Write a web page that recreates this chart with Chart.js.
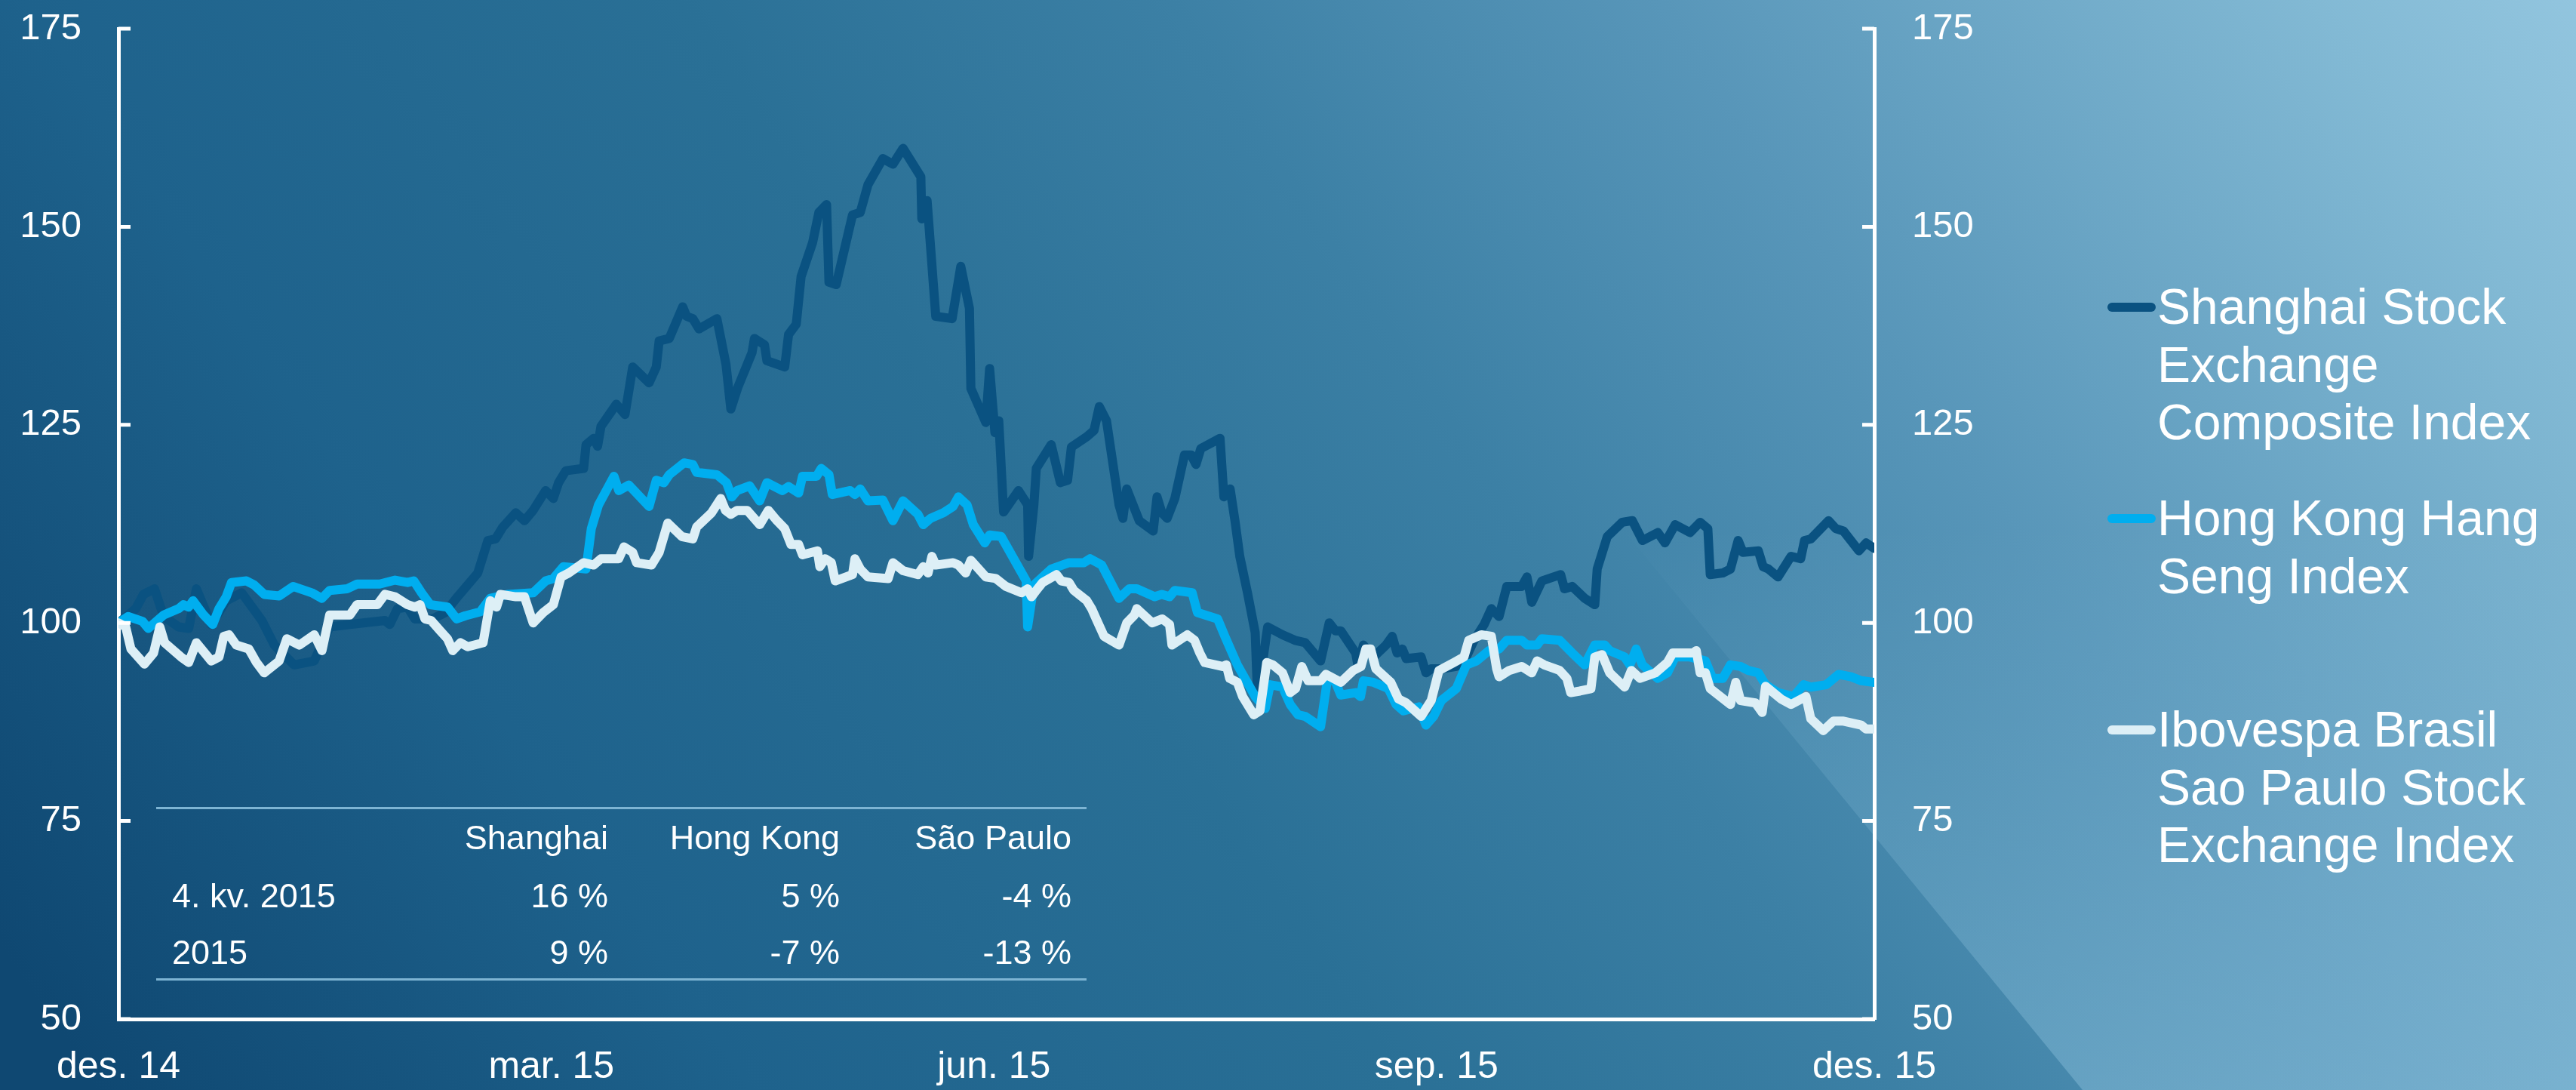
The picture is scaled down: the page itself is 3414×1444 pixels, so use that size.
<!DOCTYPE html>
<html>
<head>
<meta charset="utf-8">
<script src="https://cdn.jsdelivr.net/npm/chart.js@4.4.1/dist/chart.umd.min.js"></script>
<style>
    html, body { margin: 0; padding: 0; background: #1b5a86; }
    #wrap { position: relative; width: 3414px; height: 1444px; overflow: hidden; font-family: 'Liberation Sans', Arial, sans-serif; color: #fff; }
    #box { position: absolute; left: 0; top: 0; width: 3414px; height: 1444px; }
    .cell { position: absolute; font-size: 45px; line-height: 45px; white-space: nowrap; }
    .num { width: 300px; text-align: right; }
    .rule { position: absolute; left: 207px; width: 1233px; height: 3px; background: #7db4d3; }
    #legend { position: absolute; left: 2793px; top: 368px; }
    .item { position: relative; height: 280px; }
    .mark { position: absolute; left: 0; top: 33px; width: 64px; height: 12px; border-radius: 6px; }
    .name { position: absolute; left: 66px; top: 0; font-size: 66px; line-height: 76.5px; white-space: nowrap; }
</style>
</head>
<body>
<div id="wrap">
    <div id="box"><canvas id="indexChart"></canvas></div>
    <div id="table"></div>
    <div id="legend"></div>
</div>
<script>
// x values are days since 1 Dec 2014, y values are the index (start = 100)
const shanghaiDays = [0, 3.6, 5.2, 7.5, 9.4, 12.5, 14.6, 16.2, 19.3, 22.4, 25.6, 29.8, 32.4, 36.5, 40.7, 43.9, 48.1, 55.4, 56.4, 58.0, 60.1,
    61.6, 65.3, 67.9, 70.5, 74.7, 76.8, 78.4, 79.9, 82.6, 84.4, 86.2, 88.8, 90.4, 91.5, 93.0, 96.7, 97.2, 98.8, 99.6, 100.3, 103.5, 105.3, 106.9, 110.3, 111.8, 112.4, 114.5, 117.3, 118.1, 119.4, 120.7,
    124.4, 126.3, 127.3, 128.8, 131.7, 132.2, 134.3, 134.8, 138.5, 139.3, 140.9, 141.9, 144.3, 145.6, 147.2, 147.7, 149.2, 152.6, 154.2, 155.8, 158.9, 161.0, 163.1, 166.8, 167.0, 168.1, 169.9, 173.3, 175.1, 176.9, 177.2, 180.3, 181.1, 182.2,
    183.0, 184.0, 187.1, 189.0, 189.2, 190.3, 190.8, 193.9, 195.8, 197.3, 198.1, 201.3, 202.8, 203.9, 205.4, 208.0, 208.8, 209.6, 210.9, 212.2, 215.1, 215.9, 216.9, 218.0, 219.6, 221.6, 223.0, 224.0, 225.0, 229.0, 229.8, 231.1, 232.1, 233.1, 234.7, 236.3, 236.8, 238.9, 242.0,
    244.6, 246.7, 249.9, 251.7, 253.0, 254.1, 257.2, 257.7, 258.8, 260.9, 263.5, 264.8, 265.8, 266.9, 267.7, 270.8, 271.8, 272.9, 275.0, 278.1, 280.2, 281.8, 283.9, 285.4, 287.0, 288.6, 291.7, 292.8, 293.8, 295.9, 299.8, 300.6, 302.2, 304.8,
    306.9, 307.4, 309.5, 312.6, 314.7, 316.8, 320.0, 321.5, 323.6, 326.7, 328.8, 330.4, 330.9, 333.5, 335.1, 336.7, 337.7, 340.9, 341.9, 343.0, 345.0, 347.7, 349.7, 350.5, 351.8, 355.5, 357.0, 358.6, 361.8, 363.3, 365];
const shanghai = [100, 101.8, 103.6, 104.3, 100.8, 99.5, 99.3, 104.3, 99.8, 102.8, 103.8, 100.3, 97.2, 94.7, 95.2, 99.5, 99.8, 100.3, 99.8, 101.8, 102.0,
    100.5, 100.5, 101.3, 103.3, 106.3, 110.4, 110.6, 112.1, 113.9, 112.9, 114.2, 116.7, 115.7, 117.7, 119.2, 119.5, 122.5, 123.3, 122.3, 124.8, 127.6, 126.3, 132.3, 130.3, 132.3, 135.6, 135.9, 139.9, 138.7, 138.4, 137.1,
    138.4, 132.6, 127.0, 129.8, 134.1, 135.9, 135.1, 133.1, 132.3, 136.4, 137.7, 143.7, 148.0, 151.8, 152.8, 143.0, 142.7, 151.5, 151.8, 155.3, 158.6, 157.9, 159.9, 156.3, 151.0, 153.3, 138.7, 138.4, 145.0, 139.7, 129.6, 125.3, 132.1, 124.0,
    125.5, 114.0, 116.7, 114.9, 108.4, 114.9, 119.5, 122.5, 117.7, 118.0, 122.2, 123.5, 124.3, 127.3, 125.5, 114.9, 113.2, 116.9, 114.9, 112.9, 111.6, 115.9, 113.9, 113.2, 115.7, 121.2, 121.2, 120.0, 122.0, 123.3, 115.9, 116.9, 112.9, 108.4, 103.8, 98.8, 90.7, 99.5, 98.5,
    97.8, 97.5, 95.2, 100.0, 99.0, 99.0, 96.2, 94.5, 97.2, 95.7, 97.2, 98.3, 96.2, 96.7, 95.5, 95.7, 93.7, 94.2, 94.2, 94.5, 95.7, 97.8, 99.8, 101.8, 100.8, 104.6, 104.6, 105.8, 102.6, 105.3, 106.1, 104.3, 104.6, 103.1,
    102.3, 106.8, 110.9, 112.7, 112.9, 110.4, 111.4, 110.1, 112.4, 111.4, 112.7, 111.9, 106.1, 106.3, 106.8, 110.4, 108.9, 109.1, 107.1, 106.8, 105.8, 108.4, 108.1, 110.4, 110.6, 112.9, 111.9, 111.6, 109.1, 110.1, 109.4];

const hongKongDays = [0, 2.0, 5.0, 6.2, 9.4, 12.5, 13.5, 14.6, 15.5, 17.7, 19.6, 20.9, 22.4, 23.5, 26.6, 28.2, 30.3, 33.4, 36.3, 40.2, 42.3, 43.9, 47.5, 49.6, 54.3, 57.5, 60.1,
    61.4, 63.0, 64.8, 68.4, 70.3, 72.1, 75.2, 77.3, 81.0, 86.2, 88.8, 90.4, 92.5, 97.2, 98.3, 99.8, 103.0, 104.0, 106.1, 110.3, 111.8, 113.4, 114.5, 117.6, 119.4, 120.2,
    124.4, 126.4, 127.5, 128.6, 131.2, 133.3, 134.8, 138.0, 139.3, 141.4, 142.2, 145.1, 146.1, 147.7, 148.4, 152.1, 153.1, 154.2, 155.8, 158.9, 161.0, 163.1, 166.2, 167.3, 168.8, 171.5, 173.5, 174.6, 176.4, 177.7, 180.1, 181.1,
    183.5, 188.7, 189.0, 190.3, 193.9, 197.6, 200.7, 202.0, 204.4, 208.0, 210.1, 211.7, 215.4, 216.9, 218.5, 219.6, 223.2, 224.3, 228.5, 230.0, 232.6, 236.3, 238.4, 239.4, 242.0, 243.6,
    245.2, 246.7, 249.9, 251.4, 253.0, 254.1, 257.2, 258.2, 258.8, 260.9, 264.0, 265.6, 267.1, 270.3, 271.8, 273.4, 275.0, 278.1, 280.2, 282.3, 284.9, 287.0, 288.6, 291.7, 292.8, 294.9, 295.9, 299.6, 302.2, 304.8,
    306.9, 309.0, 310.0, 313.1, 314.2, 315.5, 316.8, 320.0, 322.0, 323.6, 326.7, 329.9, 331.4, 333.5, 335.1, 337.2, 338.8, 340.9, 342.4, 345.0, 348.2, 350.3, 351.8, 355.0, 357.6, 360.2, 362.3, 365];
const hongKong = [100, 100.8, 100.2, 99.3, 101.0, 101.8, 102.3, 102.0, 102.8, 101.0, 99.8, 101.8, 103.3, 105.1, 105.3, 104.8, 103.6, 103.4, 104.6, 103.8, 103.1, 104.1, 104.3, 104.9, 104.9, 105.4, 105.1,
    105.3, 103.8, 102.3, 102.0, 100.5, 100.9, 101.4, 103.1, 103.6, 103.8, 105.3, 105.6, 107.1, 106.8, 111.9, 114.9, 118.5, 116.7, 117.4, 114.7, 118.0, 117.7, 118.7, 120.2, 120.0, 119.0,
    118.7, 117.7, 115.9, 116.7, 117.3, 115.4, 117.7, 116.7, 117.2, 116.4, 118.5, 118.5, 119.5, 118.7, 116.2, 116.7, 116.2, 116.9, 115.4, 115.5, 112.9, 115.4, 113.7, 112.4, 113.2, 113.9, 114.7, 115.9, 114.9, 112.4, 110.1, 111.1,
    110.9, 105.3, 99.5, 104.8, 106.8, 107.6, 107.6, 108.1, 107.3, 103.1, 104.3, 104.3, 103.3, 103.6, 103.3, 104.1, 103.8, 101.3, 100.5, 98.3, 94.7, 90.7, 89.2, 92.2, 91.9, 89.7,
    88.4, 88.2, 86.9, 93.2, 92.5, 90.9, 91.2, 90.7, 92.7, 92.5, 91.7, 89.7, 88.9, 89.4, 87.1, 88.2, 90.2, 91.7, 94.7, 95.2, 96.5, 96.7, 97.8, 97.8, 97.2, 97.2, 98.0, 97.8, 96.2, 94.7,
    97.2, 97.2, 96.5, 95.7, 94.7, 96.7, 94.7, 93.0, 93.7, 95.7, 95.7, 95.2, 93.0, 93.0, 94.7, 94.5, 94.0, 93.7, 92.2, 91.2, 90.7, 92.2, 91.9, 92.2, 93.5, 93.2, 92.7, 92.5];

const saoPauloDays = [0, 1.5, 2.6, 5.4, 7.3, 8.6, 9.6, 13.0, 14.6, 16.2, 19.3, 20.9, 21.9, 23.0, 24.5, 27.1, 28.7, 30.3, 33.4, 35.0, 37.6, 40.7, 42.3, 43.9, 48.1, 49.6, 53.8, 55.4, 57.5, 60.1,
    61.6, 62.7, 63.7, 65.0, 66.9, 68.4, 69.5, 71.1, 72.6, 75.8, 77.3, 78.6, 79.4, 82.6, 84.4, 86.2, 88.3, 90.4, 92.0, 93.6, 96.7, 98.8, 100.3, 104.0, 105.1, 106.9, 107.7, 110.8, 112.4, 114.2, 117.1, 119.4, 120.2,
    123.3, 125.2, 126.2, 127.3, 128.6, 130.7, 133.3, 135.1, 136.9, 138.5, 139.8, 141.4, 142.2, 145.3, 145.8, 146.9, 148.2, 149.0, 152.6, 153.1, 154.2, 155.8, 160.0, 161.0, 163.1, 166.2, 167.3, 168.3, 169.1, 169.9, 173.5, 174.6, 176.1, 177.2, 180.3, 182.4,
    184.5, 187.7, 189.0, 189.8, 190.8, 192.1, 195.0, 196.0, 197.6, 198.6, 201.3, 202.3, 203.4, 204.9, 208.0, 209.6, 211.2, 211.7, 214.9, 217.0, 218.5, 219.0, 222.2, 223.7, 224.8, 225.8, 229.5, 230.3, 231.0, 232.6, 233.7, 236.0, 237.3, 238.7, 240.0, 242.0, 243.6,
    244.7, 246.0, 247.3, 249.9, 251.0, 254.1, 256.7, 258.3, 259.3, 260.3, 261.4, 264.5, 266.1, 267.7, 270.8, 272.9, 274.5, 277.6, 279.7, 280.7, 283.3, 285.4, 286.5, 287.0, 289.1, 291.7, 293.8, 294.9, 296.4, 299.6, 301.1, 301.9, 303.8,
    306.1, 306.9, 308.4, 310.0, 313.1, 314.5, 316.3, 319.5, 322.0, 323.1, 327.3, 328.0, 328.8, 329.9, 330.9, 335.1, 336.2, 337.2, 340.3, 341.7, 342.4, 345.6, 347.7, 350.8, 351.8, 354.4, 356.5, 358.6, 362.3, 363.3, 365];
const saoPaulo = [100, 99.5, 96.7, 94.8, 96.2, 99.5, 97.5, 95.7, 95.0, 97.5, 95.2, 95.7, 98.3, 98.5, 97.2, 96.7, 95.0, 93.7, 95.2, 98.0, 97.2, 98.5, 96.5, 101.0, 101.0, 102.3, 102.3, 103.6, 103.3, 102.3,
    102.0, 102.3, 100.5, 100.3, 99.0, 98.0, 96.5, 97.5, 97.0, 97.5, 102.8, 102.0, 103.6, 103.3, 103.3, 100.0, 101.3, 102.3, 105.8, 106.3, 107.6, 107.3, 108.1, 108.1, 109.6, 108.9, 107.6, 107.3, 108.9, 112.6, 110.9, 110.6, 112.1,
    113.9, 115.7, 114.2, 113.7, 114.2, 114.2, 112.4, 114.2, 112.9, 111.9, 109.9, 109.9, 108.6, 109.1, 107.1, 108.1, 107.6, 105.3, 106.1, 108.1, 106.8, 105.8, 105.6, 107.6, 106.6, 106.1, 107.1, 106.3, 108.4, 107.3, 107.6, 107.3, 106.3, 107.9, 105.8, 105.6,
    104.6, 103.8, 104.3, 103.3, 104.1, 105.1, 106.1, 105.3, 105.1, 104.1, 102.8, 101.8, 100.3, 98.3, 97.2, 100.0, 101.0, 101.8, 100.0, 100.5, 99.8, 97.2, 98.5, 97.8, 96.2, 95.0, 94.5, 94.7, 93.0, 92.5, 90.7, 88.4, 88.9, 95.0, 94.7, 93.7, 91.2,
    91.7, 94.5, 92.7, 92.7, 93.5, 92.5, 94.0, 94.5, 96.7, 96.7, 94.2, 92.5, 90.4, 89.9, 88.2, 90.2, 94.0, 95.0, 95.7, 97.8, 98.5, 98.3, 94.2, 93.2, 94.0, 94.5, 93.7, 95.2, 94.7, 94.0, 93.0, 91.2, 91.4,
    91.7, 95.7, 96.0, 93.7, 91.9, 94.0, 93.0, 93.7, 95.0, 96.2, 96.2, 96.5, 93.7, 93.7, 91.7, 89.7, 92.5, 90.2, 89.9, 88.7, 92.0, 90.4, 89.7, 90.7, 87.9, 86.4, 87.6, 87.6, 87.1, 86.6, 86.6];

const tickDays = [0, 90, 182, 274, 365];
const tickLabels = ['des. 14', 'mar. 15', 'jun. 15', 'sep. 15', 'des. 15'];

const seriesNames = [
    ['Shanghai Stock', 'Exchange', 'Composite Index'],
    ['Hong Kong Hang', 'Seng Index'],
    ['Ibovespa Brasil', 'Sao Paulo Stock', 'Exchange Index']
];
const seriesColors = ['#0a5281', '#00aeef', '#ddeff6'];

const tableHead = ['Shanghai', 'Hong Kong', 'São Paulo'];
const tableRows = [
    ['4. kv. 2015', '16 %', '5 %', '-4 %'],
    ['2015', '9 %', '-7 %', '-13 %']
];

const font = "'Liberation Sans', Arial, sans-serif";
const seriesDays = [shanghaiDays, hongKongDays, saoPauloDays];
const seriesValues = [shanghai, hongKong, saoPaulo];

// background: blue gradient plus the lighter wedge at the lower right
const backdrop = {
    id: 'backdrop',
    beforeDraw(chart) {
        const { ctx, width, height } = chart;
        ctx.save();
        const g = ctx.createLinearGradient(300, 1700, 3300, -300);
        g.addColorStop(0, '#0f4872');
        g.addColorStop(0.2, '#1e628c');
        g.addColorStop(0.4, '#2a7096');
        g.addColorStop(0.55, '#3c80a5');
        g.addColorStop(0.7, '#5896b9');
        g.addColorStop(0.9, '#82b9d4');
        g.addColorStop(1, '#96c8e1');
        ctx.fillStyle = g;
        ctx.fillRect(0, 0, width, height);

        const w = ctx.createLinearGradient(0, 700, 0, height);
        w.addColorStop(0, 'rgba(160,210,235,0)');
        w.addColorStop(1, 'rgba(160,210,235,0.35)');
        ctx.fillStyle = w;
        ctx.beginPath();
        ctx.moveTo(2150, 700);
        ctx.lineTo(2760, height);
        ctx.lineTo(width, height);
        ctx.lineTo(width, 700);
        ctx.closePath();
        ctx.fill();
        ctx.restore();
    }
};

// tick marks point into the plot on both value axes
const innerTicks = {
    id: 'innerTicks',
    afterDraw(chart) {
        const { ctx, chartArea, scales } = chart;
        ctx.save();
        ctx.strokeStyle = '#ffffff';
        ctx.lineWidth = 5;
        scales.y.ticks.forEach(t => {
            const py = scales.y.getPixelForValue(t.value);
            ctx.beginPath();
            ctx.moveTo(chartArea.left, py);
            ctx.lineTo(chartArea.left + 16, py);
            ctx.moveTo(chartArea.right, py);
            ctx.lineTo(chartArea.right - 16, py);
            ctx.stroke();
        });
        ctx.restore();
    }
};

// the label gap is made with an invisible tick so it does not add top padding
const hiddenTickGrid = gap => ({
    drawOnChartArea: false,
    drawTicks: true,
    tickLength: gap,
    tickColor: 'rgba(0,0,0,0)'
});

const ctx = document.getElementById('indexChart').getContext('2d');
new Chart(ctx, {
    type: 'line',
    data: {
        datasets: seriesValues.map((vals, i) => ({
            label: seriesNames[i].join(' '),
            data: seriesDays[i].map((d, k) => ({ x: d, y: vals[k] })),
            borderColor: seriesColors[i],
            backgroundColor: seriesColors[i],
            borderWidth: 12,
            borderJoinStyle: 'round',
            borderCapStyle: 'round',
            pointRadius: 0,
            tension: 0,
            fill: false,
            order: 3 - i
        }))
    },
    options: {
        responsive: true,
        maintainAspectRatio: false,
        animation: false,
        events: [],
        layout: {
            padding: { left: 0, right: 730, top: 38, bottom: 0 }
        },
        plugins: {
            legend: { display: false },
            tooltip: { enabled: false }
        },
        scales: {
            x: {
                type: 'linear',
                min: 0,
                max: 365,
                afterBuildTicks: scale => {
                    scale.ticks = tickDays.map(v => ({ value: v }));
                },
                afterFit: scale => { scale.height = 94; },
                ticks: {
                    autoSkip: false,
                    maxRotation: 0,
                    padding: 0,
                    color: '#ffffff',
                    font: { family: font, size: 50 },
                    callback: (value, index) => tickLabels[index]
                },
                grid: hiddenTickGrid(34),
                border: { display: true, color: '#ffffff', width: 5 }
            },
            y: {
                position: 'left',
                min: 50,
                max: 175,
                afterFit: scale => { scale.width = 157; },
                ticks: {
                    stepSize: 25,
                    padding: 0,
                    color: '#ffffff',
                    font: { family: font, size: 49 }
                },
                grid: hiddenTickGrid(49),
                border: { display: true, color: '#ffffff', width: 5 }
            },
            y2: {
                position: 'right',
                min: 50,
                max: 175,
                afterFit: scale => { scale.width = 200; },
                ticks: {
                    stepSize: 25,
                    padding: 0,
                    color: '#ffffff',
                    font: { family: font, size: 49 }
                },
                grid: hiddenTickGrid(50),
                border: { display: true, color: '#ffffff', width: 5 }
            }
        }
    },
    plugins: [backdrop, innerTicks]
});

// table of returns
const table = document.getElementById('table');
const colRight = [806, 1113, 1420];
const rowTop = [1087, 1164, 1239];
function addCell(text, left, top, right) {
    const el = document.createElement('div');
    el.className = right ? 'cell num' : 'cell';
    el.textContent = text;
    el.style.left = (right ? left - 300 : left) + 'px';
    el.style.top = top + 'px';
    table.appendChild(el);
}
[1069, 1296].forEach(t => {
    const r = document.createElement('div');
    r.className = 'rule';
    r.style.top = t + 'px';
    table.appendChild(r);
});
tableHead.forEach((h, c) => addCell(h, colRight[c], rowTop[0], true));
tableRows.forEach((row, r) => {
    addCell(row[0], 228, rowTop[r + 1], false);
    row.slice(1).forEach((v, c) => addCell(v, colRight[c], rowTop[r + 1], true));
});

// legend
const legend = document.getElementById('legend');
seriesNames.forEach((lines, i) => {
    const item = document.createElement('div');
    item.className = 'item';
    const mark = document.createElement('div');
    mark.className = 'mark';
    mark.style.background = seriesColors[i];
    const name = document.createElement('div');
    name.className = 'name';
    lines.forEach((ln, k) => {
        if (k) name.appendChild(document.createElement('br'));
        name.appendChild(document.createTextNode(ln));
    });
    item.appendChild(mark);
    item.appendChild(name);
    legend.appendChild(item);
});
</script>
</body>
</html>
